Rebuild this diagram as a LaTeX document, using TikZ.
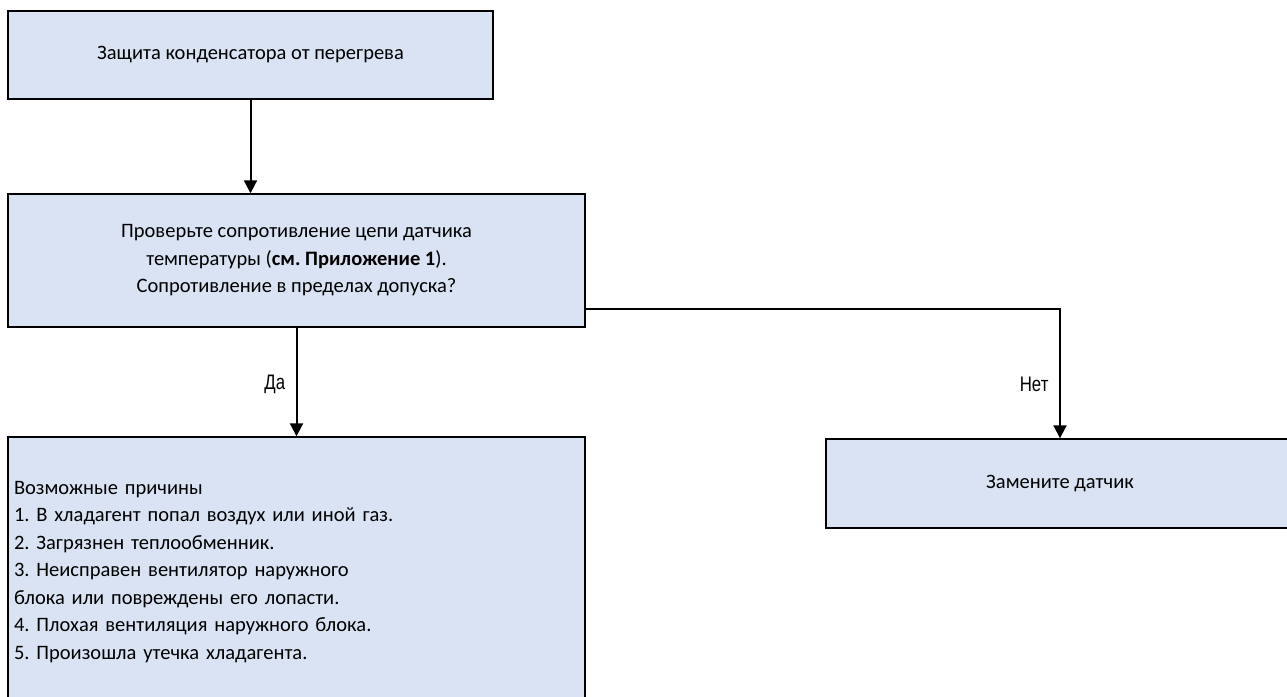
\documentclass[tikz,border=0pt]{standalone}
\usepackage{fontspec}
\setmainfont{Carlito}
\newfontfamily\narrowfont[FakeStretch=0.8]{Liberation Sans}
\usetikzlibrary{calc}
\usetikzlibrary{arrows.meta}
\definecolor{boxblue}{RGB}{218,227,243}
\frenchspacing

\begin{document}
\begin{tikzpicture} [x=1pt, y=-1pt,
  box/.style={draw=black, fill=boxblue, line width=1.4pt, inner sep=6pt, font=\fontsize{20.5}{27.5}\selectfont},
  link/.style={black, line width=2pt, -{Triangle[width=13pt,length=13pt]}},
  answer/.style={font=\narrowfont\fontsize{21}{24}\selectfont}]
\useasboundingbox (0,0) rectangle (1287,696);
\node[box, minimum width=485, minimum height=88] (guard) at (250.5,55) {Защита конденсатора от перегрева};
\node[box, minimum width=577, minimum height=133, align=center] (check) at (296.5,260.5)
 {Проверьте сопротивление цепи датчика\\температуры (\textbf{см. Приложение 1}).\\Сопротивление в пределах допуска?};
\node[box, minimum width=577, minimum height=270, text width=565, align=left] (causes) at (296.5,572)
 {Возможные причины\\
  1. В хладагент попал воздух или иной газ.\\
  2. Загрязнен теплообменник.\\
  3. Неисправен вентилятор наружного\\
  блока или повреждены его лопасти.\\
  4. Плохая вентиляция наружного блока.\\
  5. Произошла утечка хладагента.};
\node[box, minimum width=468, minimum height=89] (replace) at (1060,483.5) {Замените датчик};
\coordinate (turn) at (replace.north |- 0,309);
\draw[link] (guard.south) -- (guard.south |- check.north);
\draw[link] (check.south) -- (causes.north) node[pos=0.52, left, answer, xshift=-7]{Да};
\draw[link] (check.east |- turn) -- (turn) -- (replace.north);
\node[answer, left, xshift=-8] (no) at ($(turn)!0.58!(replace.north)$) {Нет};
\end{tikzpicture}
\end{document}
